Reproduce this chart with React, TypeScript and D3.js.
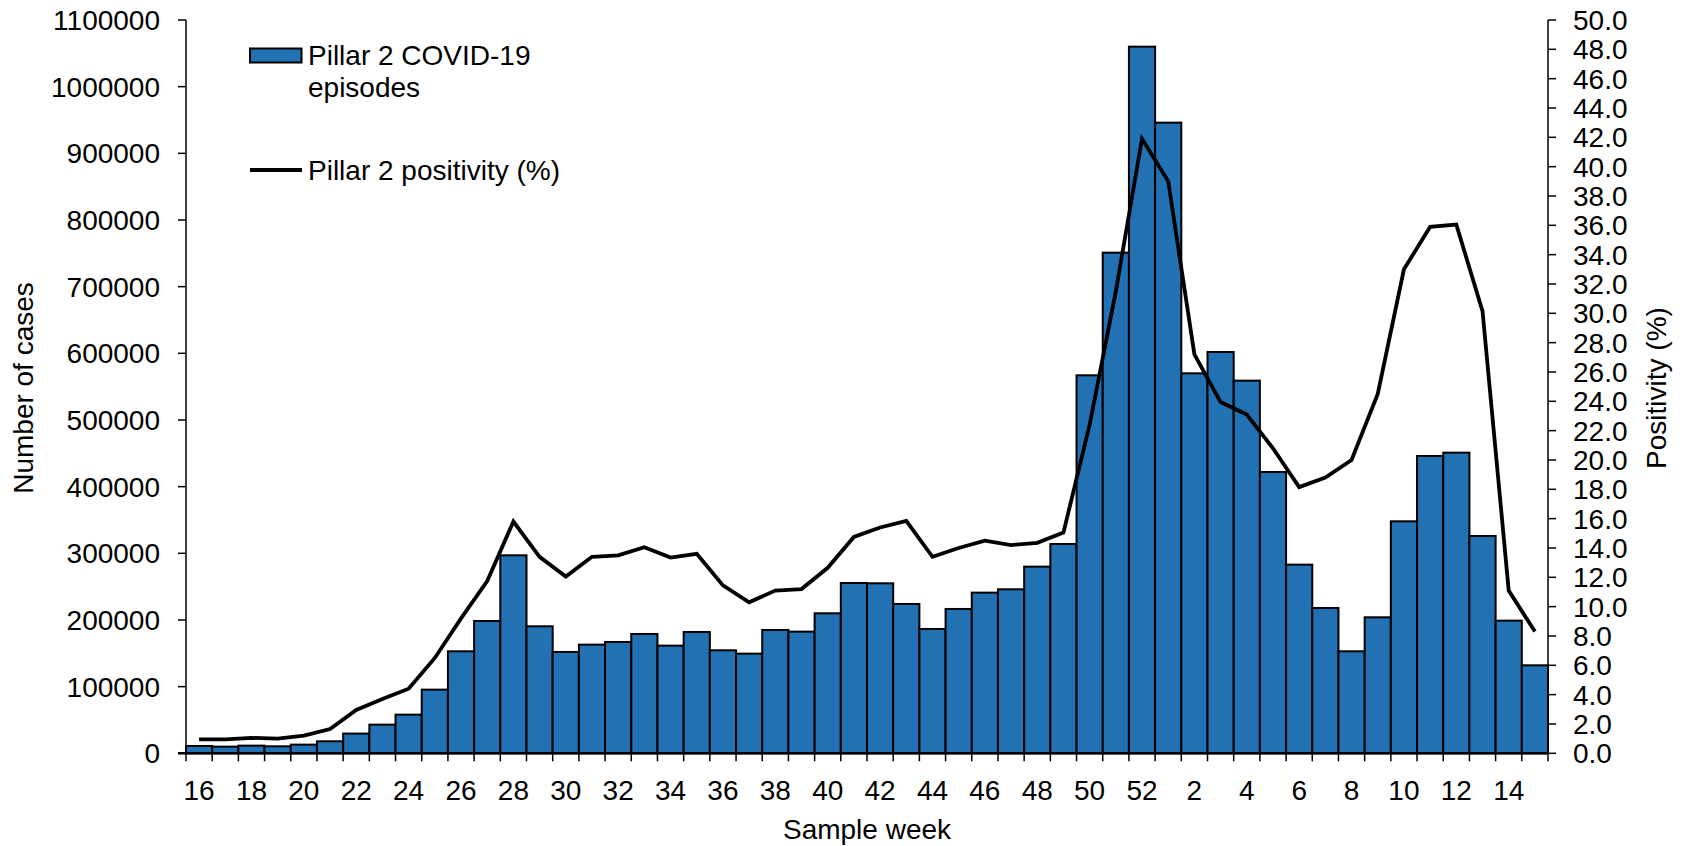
import React from "react";
import * as d3 from "d3";

const weeks = [16,17,18,19,20,21,22,23,24,25,26,27,28,29,30,31,32,33,34,35,36,37,38,39,40,41,42,43,44,45,46,47,48,49,50,51,52,1,2,3,4,5,6,7,8,9,10,11,12,13,14,15];
const episodes = [11000,10000,11500,10500,13000,18000,29600,43000,58000,95500,153000,198500,297000,190500,152000,163000,167000,179000,161500,182000,154500,149500,185000,182500,210000,255500,255000,224000,186500,216500,241000,246000,280000,314000,567000,751000,1060000,946000,570000,602000,559000,422000,283000,218000,153000,204000,348000,446000,451000,326000,199000,132000];
const positivity = [0.95,0.95,1.05,1.0,1.2,1.65,2.95,3.7,4.4,6.5,9.2,11.75,15.8,13.4,12.05,13.4,13.5,14.05,13.35,13.6,11.45,10.3,11.1,11.2,12.65,14.75,15.4,15.85,13.4,14.0,14.5,14.2,14.35,15.05,22.4,31.5,41.9,39.0,27.2,23.95,23.1,20.8,18.15,18.8,20.0,24.5,33.0,35.9,36.05,30.15,11.1,8.3];
const leftTicks = d3.range(0, 1100001, 100000);
const rightTicks = d3.range(0, 50.001, 2);
const xLabelWeeks = [16,18,20,22,24,26,28,30,32,34,36,38,40,42,44,46,48,50,52,2,4,6,8,10,12,14];

const W = 1689, H = 846;
const X0 = 186, X1 = 1548, YT = 20, YB = 753.3;
const FONT = "'Liberation Sans', Arial, sans-serif";
const FS = 28;
const BAR = "#2271b3";

export default function App() {
  const idx = weeks.map((_, i) => i);
  const x = d3.scaleBand<number>().domain(idx).range([X0, X1]).paddingInner(0).paddingOuter(0);
  const yL = d3.scaleLinear().domain([0, 1100000]).range([YB, YT]);
  const yR = d3.scaleLinear().domain([0, 50]).range([YB, YT]);
  const bw = x.bandwidth();
  const line = d3.line<number>().x((_, i) => (x(i) as number) + bw / 2).y((d) => yR(d));
  const boundaries = d3.range(0, weeks.length + 1).map((i) => X0 + i * bw);

  return (
    <svg width={W} height={H} style={{ position: "absolute", left: 0, top: 0 }} fontFamily={FONT}>
      <rect x={0} y={0} width={W} height={H} fill="#fff" />
      {/* bars */}
      {episodes.map((v, i) => (
        <rect key={i} x={x(i)} y={yL(v)} width={bw} height={YB - yL(v)} fill={BAR} stroke="#000" strokeWidth={2} />
      ))}
      {/* line */}
      <path d={line(positivity) || ""} fill="none" stroke="#000" strokeWidth={3.8} strokeLinejoin="miter" />
      {/* left axis */}
      <line x1={X0} x2={X0} y1={YT} y2={YB} stroke="#000" strokeWidth={1.5} />
      {leftTicks.map((t) => (
        <g key={t}>
          <line x1={X0 - 8} x2={X0} y1={yL(t)} y2={yL(t)} stroke="#000" strokeWidth={1.5} />
          <text x={160} y={yL(t) + 10} textAnchor="end" fontSize={FS} fill="#000">{t}</text>
        </g>
      ))}
      {/* right axis */}
      <line x1={X1} x2={X1} y1={YT} y2={YB} stroke="#000" strokeWidth={1.5} />
      {rightTicks.map((t) => (
        <g key={t}>
          <line x1={X1} x2={X1 + 8} y1={yR(t)} y2={yR(t)} stroke="#000" strokeWidth={1.5} />
          <text x={1573} y={yR(t) + 10} textAnchor="start" fontSize={FS} fill="#000">{t.toFixed(1)}</text>
        </g>
      ))}
      {/* bottom axis */}
      <line x1={X0 - 8} x2={X1} y1={YB} y2={YB} stroke="#000" strokeWidth={2.5} />
      {boundaries.map((bx, i) => (
        <line key={i} x1={bx} x2={bx} y1={YB} y2={YB + 8} stroke="#000" strokeWidth={1.5} />
      ))}
      {weeks.map((w, i) =>
        xLabelWeeks.includes(w) && !(i < 37 && w < 16) ? (
          <text key={i} x={(x(i) as number) + bw / 2} y={800} textAnchor="middle" fontSize={FS} fill="#000">{w}</text>
        ) : null
      )}
      {/* axis titles */}
      <text x={867} y={839} textAnchor="middle" fontSize={FS} fill="#000">Sample week</text>
      <text transform="translate(33,388) rotate(-90)" textAnchor="middle" fontSize={FS} fill="#000">Number of cases</text>
      <text transform="translate(1666,388) rotate(-90)" textAnchor="middle" fontSize={FS} fill="#000">Positivity (%)</text>
      {/* legend */}
      <rect x={250} y={48.5} width={51.5} height={14} fill={BAR} stroke="#000" strokeWidth={2} />
      <text x={308} y={65} fontSize={FS} fill="#000">Pillar 2 COVID-19</text>
      <text x={308} y={97} fontSize={FS} fill="#000">episodes</text>
      <line x1={250} x2={302} y1={170} y2={170} stroke="#000" strokeWidth={4} />
      <text x={308} y={180} fontSize={FS} fill="#000">Pillar 2 positivity (%)</text>
    </svg>
  );
}
